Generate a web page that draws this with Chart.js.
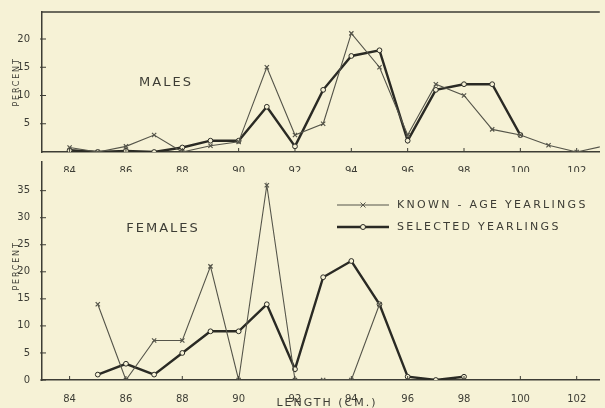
<!DOCTYPE html>
<html>
<head>
<meta charset="utf-8">
<script src="https://cdn.jsdelivr.net/npm/chart.js@4.4.0/dist/chart.umd.min.js"></script>
<style>
  body { margin: 0; background: #f6f2d6; }
  #wrap { position: relative; width: 605px; height: 408px; overflow: hidden; font-family: "DejaVu Sans", sans-serif; color: #3d3d35; }
  canvas { position: absolute; left: 0; }
  #maleChart { top: 0; }
  #femaleChart { top: 152px; }
  .lbl { position: absolute; white-space: nowrap; letter-spacing: 2px; transform: translate(-50%, -50%); }
  .rot { transform: translate(-50%, -50%) rotate(-90deg); font-size: 8px; letter-spacing: 1.8px; }
</style>
</head>
<body>
<div id="wrap">
  <canvas id="maleChart" width="605" height="172"></canvas>
  <canvas id="femaleChart" width="605" height="256"></canvas>
  <div class="lbl" style="left:166px; top:81px; font-size:13px;">MALES</div>
  <div class="lbl" style="left:163px; top:227px; font-size:13px;">FEMALES</div>
  <div class="lbl rot" style="left:16px; top:82px;">PERCENT</div>
  <div class="lbl rot" style="left:16px; top:266px;">PERCENT</div>
  <div class="lbl" style="left:327px; top:402px; font-size:11px;">LENGTH (CM.)</div>
</div>
<script>
// tick labels
const xTicks = [84, 86, 88, 90, 92, 94, 96, 98, 100, 102];
const maleYTicks = [5, 10, 15, 20];
const femaleYTicks = [0, 5, 10, 15, 20, 25, 30, 35];

// males (percent by length, cm)
const maleKnownLengths = [84, 85, 86, 87, 88, 89, 90, 91, 92, 93, 94, 95, 96, 97, 98, 99, 100, 101, 102, 103];
const maleKnown = [0.8, 0, 1, 3, 0, 1.1, 1.8, 15, 3, 5, 21, 15, 3, 12, 10, 4, 3, 1.2, 0, 1.1];
const maleSelectedLengths = [84, 85, 86, 87, 88, 89, 90, 91, 92, 93, 94, 95, 96, 97, 98, 99, 100];
const maleSelected = [0.3, 0, 0.2, 0, 0.8, 2, 2, 8, 1, 11, 17, 18, 2, 11, 12, 12, 3];

// females
const femaleKnownLengths = [85, 86, 87, 88, 89, 90, 91, 92, 93, 94, 95];
const femaleKnown = [14, 0, 7.3, 7.3, 21, 0, 36, 0, 0, 0, 14];
const femaleSelectedLengths = [85, 86, 87, 88, 89, 90, 91, 92, 93, 94, 95, 96, 97, 98];
const femaleSelected = [1, 3, 1, 5, 9, 9, 14, 2, 19, 22, 14, 0.6, 0, 0.6];

const seriesNames = ['KNOWN - AGE YEARLINGS', 'SELECTED YEARLINGS'];

const BG = '#f6f2d6';
const INK = '#3d3d35';
const THIN = '#55554a';
const THICK = '#2a2a24';

Chart.defaults.font.family = '"DejaVu Sans", sans-serif';
Chart.defaults.font.size = 10;
Chart.defaults.color = INK;

function toPoints(xs, ys) {
    return xs.map((x, i) => ({ x: x, y: ys[i] }));
}

function knownSet(xs, ys) {
    return {
        label: seriesNames[0],
        data: toPoints(xs, ys),
        borderColor: THIN,
        borderWidth: 1.1,
        pointStyle: 'crossRot',
        pointRadius: 3,
        pointBorderWidth: 1.2,
        pointBorderColor: THIN,
        tension: 0
    };
}

function selectedSet(xs, ys) {
    return {
        label: seriesNames[1],
        data: toPoints(xs, ys),
        borderColor: THICK,
        borderWidth: 2.4,
        pointStyle: 'circle',
        pointRadius: 2.4,
        pointBorderWidth: 1,
        pointBorderColor: THICK,
        pointBackgroundColor: BG,
        tension: 0
    };
}

// small tick marks drawn into the plot, like the printed figure
const inTicks = {
    id: 'inTicks',
    afterDraw(chart) {
        const ctx = chart.ctx;
        const x = chart.scales.x, y = chart.scales.y;
        ctx.save();
        ctx.strokeStyle = INK;
        ctx.lineWidth = 1;
        x.ticks.forEach(t => {
            const px = x.getPixelForValue(t.value);
            ctx.beginPath();
            ctx.moveTo(px, y.bottom);
            ctx.lineTo(px, y.bottom - 4);
            ctx.stroke();
        });
        y.ticks.forEach(t => {
            const py = y.getPixelForValue(t.value);
            ctx.beginPath();
            ctx.moveTo(x.left - 2, py);
            ctx.lineTo(x.left + 4, py);
            ctx.stroke();
        });
        if (chart.options.plugins.inTicks.topLine) {
            ctx.lineWidth = 1.5;
            ctx.beginPath();
            ctx.moveTo(x.left, y.top);
            ctx.lineTo(x.right, y.top);
            ctx.stroke();
        }
        ctx.restore();
    }
};

// legend drawn inside the female plot
const innerLegend = {
    id: 'innerLegend',
    afterDatasetsDraw(chart) {
        const opts = chart.options.plugins.innerLegend;
        if (!opts.show) return;
        const ctx = chart.ctx;
        ctx.save();
        chart.data.datasets.forEach((ds, i) => {
            const yy = opts.y + i * 22;
            ctx.strokeStyle = ds.borderColor;
            ctx.lineWidth = ds.borderWidth;
            ctx.beginPath();
            ctx.moveTo(opts.x, yy);
            ctx.lineTo(opts.x + 52, yy);
            ctx.stroke();
            const mx = opts.x + 26;
            ctx.lineWidth = 1;
            if (ds.pointStyle === 'crossRot') {
                ctx.beginPath();
                ctx.moveTo(mx - 2.5, yy - 2.5); ctx.lineTo(mx + 2.5, yy + 2.5);
                ctx.moveTo(mx + 2.5, yy - 2.5); ctx.lineTo(mx - 2.5, yy + 2.5);
                ctx.stroke();
            } else {
                ctx.fillStyle = BG;
                ctx.beginPath();
                ctx.arc(mx, yy, 2.5, 0, Math.PI * 2);
                ctx.fill();
                ctx.stroke();
            }
            ctx.fillStyle = INK;
            ctx.font = '11px "DejaVu Sans", sans-serif';
            ctx.letterSpacing = '2.3px';
            ctx.textBaseline = 'middle';
            ctx.fillText(ds.label, opts.x + 60, yy);
        });
        ctx.restore();
    }
};

function makeChart(id, datasets, yMax, yTicks, xHeight, topPad, topLine, legend) {
    return new Chart(document.getElementById(id), {
        type: 'line',
        data: { datasets: datasets },
        plugins: [inTicks, innerLegend],
        options: {
            responsive: false,
            animation: false,
            layout: { padding: { top: topPad, left: 0, right: 0, bottom: 0 } },
            plugins: {
                legend: { display: false },
                tooltip: { enabled: false },
                inTicks: { topLine: topLine },
                innerLegend: legend
            },
            scales: {
                x: {
                    type: 'linear',
                    min: 83.02,
                    max: 102.82,
                    afterBuildTicks: s => { s.ticks = xTicks.map(v => ({ value: v })); },
                    afterFit: s => { s.height = xHeight; },
                    grid: { display: false },
                    border: { display: true, color: INK, width: 1.5 },
                    ticks: { padding: 5, maxRotation: 0, color: INK, font: { size: 10 } }
                },
                y: {
                    type: 'linear',
                    min: 0,
                    max: yMax,
                    afterBuildTicks: s => { s.ticks = yTicks.map(v => ({ value: v })); },
                    afterFit: s => { s.width = 42; },
                    grid: { display: false },
                    border: { display: true, color: INK, width: 1.5 },
                    ticks: { padding: 4, color: INK, font: { size: 10 } }
                }
            }
        }
    });
}

makeChart('maleChart',
    [knownSet(maleKnownLengths, maleKnown), selectedSet(maleSelectedLengths, maleSelected)],
    24.78, maleYTicks, 20, 12, true, { show: false });

makeChart('femaleChart',
    [knownSet(femaleKnownLengths, femaleKnown), selectedSet(femaleSelectedLengths, femaleSelected)],
    40.3, femaleYTicks, 28, 0, false, { show: true, x: 337, y: 53 });
</script>
</body>
</html>
